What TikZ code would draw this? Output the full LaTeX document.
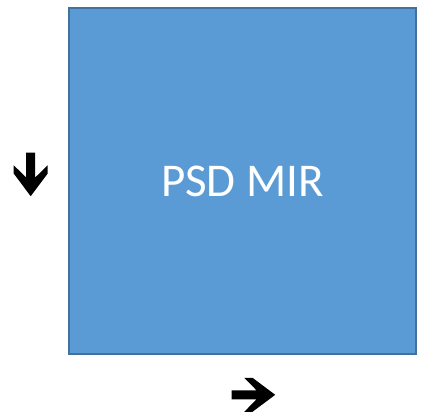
\documentclass[tikz,border=0pt]{standalone}
\usepackage{fontspec}
\setmainfont{Carlito}
\definecolor{boxfill}{HTML}{5B9BD5}
\definecolor{boxline}{HTML}{41719C}
\tikzset{
  mainbox/.style={draw=boxline, fill=boxfill, line width=2pt, minimum width=347pt, minimum height=346pt, inner sep=0pt, text=white, font=\fontsize{47}{50}\selectfont},
  blockarrow/.pic={
    \fill[black] (0,4.5) -- (24.8,4.5) -- (12.6,17) -- (20.8,17) -- (43.5,0)
      -- (20.8,-17) -- (12.6,-17) -- (24.8,-4.5) -- (0,-4.5) -- cycle;
  }
}
\begin{document}
\begin{tikzpicture}[x=1pt,y=-1pt]
\useasboundingbox (0,0) rectangle (423,419);
\node[mainbox] (box) at (242.5,181.5) {PSD MIR};
\coordinate (downarrow) at (30.7,152.7);
\coordinate (rightarrow) at (231.7,394.8);
\pic[rotate=-90] at (downarrow) {blockarrow};
\pic at (rightarrow) {blockarrow};
\end{tikzpicture}
\end{document}
